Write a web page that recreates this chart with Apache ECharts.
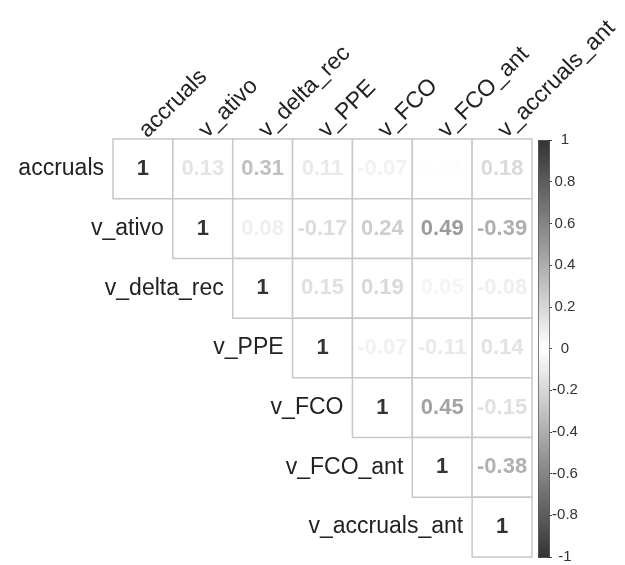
<!DOCTYPE html>
<html>
<head>
<meta charset="utf-8">
<script src="https://cdn.jsdelivr.net/npm/echarts@6/dist/echarts.min.js"></script>
<style>
  html, body { margin: 0; padding: 0; background: #fff; }
  #main { width: 625px; height: 565px; }
</style>
</head>
<body>
<div id="main"></div>
<script>
var names = ['accruals', 'v_ativo', 'v_delta_rec', 'v_PPE', 'v_FCO', 'v_FCO_ant', 'v_accruals_ant'];

// upper triangle, one array per row (starting at the diagonal)
var r_accruals = [1, 0.13, 0.31, 0.11, -0.07, 0.01, 0.18];
var r_ativo = [1, 0.08, -0.17, 0.24, 0.49, -0.39];
var r_delta_rec = [1, 0.15, 0.19, 0.05, -0.08];
var r_PPE = [1, -0.07, -0.11, 0.14];
var r_FCO = [1, 0.45, -0.15];
var r_FCO_ant = [1, -0.38];
var r_accruals_ant = [1];

var rows = [r_accruals, r_ativo, r_delta_rec, r_PPE, r_FCO, r_FCO_ant, r_accruals_ant];
var cells = [];
rows.forEach(function (row, i) {
    row.forEach(function (v, k) {
        cells.push([i + k, i, v]);
    });
});
var diag = names.map(function (n, i) { return [i, i, n]; });

var myChart = echarts.init(document.getElementById('main'));
var font = 'Liberation Sans, Arial, sans-serif';

option = {
    animation: false,
    grid: [
        { left: 113, top: 139, width: 419, height: 418 },
        { left: 538, top: 140, width: 11, height: 417 }
    ],
    xAxis: [{
        gridIndex: 0,
        type: 'category',
        data: names,
        position: 'top',
        axisLine: { show: false },
        axisTick: { show: false },
        axisLabel: {
            rotate: -45, margin: 5, interval: 0,
            color: '#222', fontSize: 23, fontFamily: font
        }
    }, {
        gridIndex: 1,
        type: 'category',
        data: [''],
        show: false
    }],
    yAxis: [{
        gridIndex: 0,
        type: 'category',
        data: names,
        inverse: true,
        show: false
    }, {
        gridIndex: 1,
        type: 'value',
        min: -1, max: 1, interval: 0.2,
        position: 'right',
        splitLine: { show: false },
        axisLine: { show: false },
        axisTick: { show: true, length: 3, lineStyle: { color: '#444' } },
        axisLabel: {
            margin: 16, align: 'center', color: '#333', fontSize: 15, fontFamily: font,
            formatter: function (v) { return String(+v.toFixed(1)); }
        }
    }],
    visualMap: {
        type: 'continuous',
        min: -1, max: 1,
        dimension: 2,
        seriesIndex: 0,
        show: true,
        calculable: false,
        left: 538, top: 140,
        itemWidth: 11, itemHeight: 417,
        padding: 0,
        text: null,
        showLabel: false,
        borderColor: '#333', borderWidth: 1,
        inRange: { color: ['#333333', '#ffffff', '#333333'] }
    },
    series: [{
        type: 'custom',
        xAxisIndex: 0, yAxisIndex: 0,
        data: cells,
        renderItem: function (params, api) {
            var c = api.coord([api.value(0), api.value(1)]);
            var s = api.size([1, 1]);
            var v = api.value(2);
            return {
                type: 'group',
                children: [{
                    type: 'rect',
                    shape: { x: c[0] - s[0] / 2, y: c[1] - s[1] / 2, width: s[0], height: s[1] },
                    style: { fill: '#fff', stroke: '#c8c8c8', lineWidth: 1.5 }
                }, {
                    type: 'text',
                    x: c[0], y: c[1],
                    style: {
                        text: v === 1 ? '1' : v.toFixed(2),
                        fill: api.visual('color'),
                        align: 'center', verticalAlign: 'middle',
                        fontSize: 22, fontWeight: 'bold', fontFamily: font
                    }
                }]
            };
        }
    }, {
        type: 'custom',
        xAxisIndex: 0, yAxisIndex: 0,
        data: diag,
        renderItem: function (params, api) {
            var c = api.coord([api.value(0), api.value(1)]);
            var s = api.size([1, 1]);
            return {
                type: 'text',
                x: c[0] - s[0] / 2 - 9, y: c[1],
                style: {
                    text: names[params.dataIndex],
                    fill: '#222', align: 'right', verticalAlign: 'middle',
                    fontSize: 23, fontFamily: font
                }
            };
        }
    }]
};

myChart.setOption(option);
</script>
</body>
</html>
